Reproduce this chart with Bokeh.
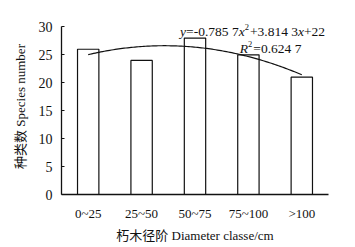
import numpy as np
from bokeh.plotting import figure
from bokeh.models import Range1d, FixedTicker, Label
from bokeh.embed import file_html
from bokeh.resources import INLINE

# ---- data ----
categories = ["0~25", "25~50", "50~75", "75~100", ">100"]
species = [26, 24, 28, 25, 21]
y_ticks = [0, 5, 10, 15, 20, 25, 30]
eq_text = [("y", "italic"), ("=-0.785 7", "normal"), ("x", "italic"), ("2", "sup"),
           ("+3.814 3", "normal"), ("x", "italic"), ("+22", "normal")]
r2_text = [("R", "italic"), ("2", "sup"), (" =0.624 7", "normal")]

xs = np.arange(1, len(categories) + 1)
coef = np.polyfit(xs, species, 2)
xc = np.linspace(1, len(categories), 120)
yc = np.polyval(coef, xc)

FONT = "Liberation Serif"
CJK_FONT = "Liberation Serif, Noto Sans CJK SC"

p = figure(width=355, height=247, x_range=Range1d(0.5, 5.5), y_range=Range1d(0, 31.5),
           output_backend="svg", toolbar_location=None,
           min_border_left=61, min_border_right=27, min_border_top=18, min_border_bottom=53)
p.background_fill_color = "white"
p.border_fill_color = "white"
p.outline_line_color = None
p.xgrid.visible = False
p.ygrid.visible = False

p.vbar(x=xs, top=species, width=0.4, fill_color="white", line_color="#111111", line_width=1.2)
p.line(xc, yc, line_color="#111111", line_width=1.2)

# axes
p.xaxis.ticker = FixedTicker(ticks=[int(v) for v in xs])
p.xaxis.major_label_overrides = {int(v): c for v, c in zip(xs, categories)}
p.xaxis.major_tick_line_color = None
p.xaxis.minor_tick_line_color = None
p.xaxis.major_tick_out = 0
p.xaxis.major_tick_in = 0
p.xaxis.major_label_standoff = 11
p.xaxis.axis_label = "朽木径阶 Diameter classe/cm"
p.xaxis.axis_label_standoff = 4

p.yaxis.ticker = FixedTicker(ticks=y_ticks)
p.yaxis.bounds = (y_ticks[0], y_ticks[-1])
p.yaxis.major_tick_in = 3
p.yaxis.major_tick_out = 0
p.yaxis.major_tick_line_color = "#111111"
p.yaxis.minor_tick_line_color = None
p.yaxis.major_label_standoff = 9
p.yaxis.axis_label = "种类数 Species number"
p.yaxis.axis_label_standoff = 8

for ax in (p.xaxis[0], p.yaxis[0]):
    ax.axis_line_color = "#111111"
    ax.axis_line_width = 1.3
    ax.major_label_text_font = FONT
    ax.major_label_text_color = "#111111"
    ax.axis_label_text_font = CJK_FONT
    ax.axis_label_text_font_size = "13px"
    ax.axis_label_text_font_style = "normal"
    ax.axis_label_text_color = "#111111"
p.xaxis.major_label_text_font_size = "13px"
p.yaxis.major_label_text_font_size = "14px"

# Times-like advance widths (per em)
W = {"0": .5, "1": .5, "2": .5, "3": .5, "4": .5, "5": .5, "6": .5, "7": .5, "8": .5, "9": .5,
     ".": .25, " ": .25, "=": .564, "-": .333, "+": .564, "x": .444, "y": .444, "R": .611}
FS = 13.5
SUP = 8.5


def add_text(parts, x, y):
    off = 0.0
    for s, style in parts:
        size = SUP if style == "sup" else FS
        p.add_layout(Label(x=x, y=y, x_offset=off, y_offset=5 if style == "sup" else 0,
                           text=s, text_font=FONT, text_font_size=f"{size}px",
                           text_font_style="italic" if style == "italic" else "normal",
                           text_color="#111111", text_baseline="alphabetic", text_align="left"))
        off += sum(W.get(ch, .5) for ch in s) * size + (1 if style == "sup" else 0)


add_text(eq_text, 2.72, 29.17)
add_text(r2_text, 3.84, 26.13)

open("out.html", "w").write(file_html(p, INLINE))
